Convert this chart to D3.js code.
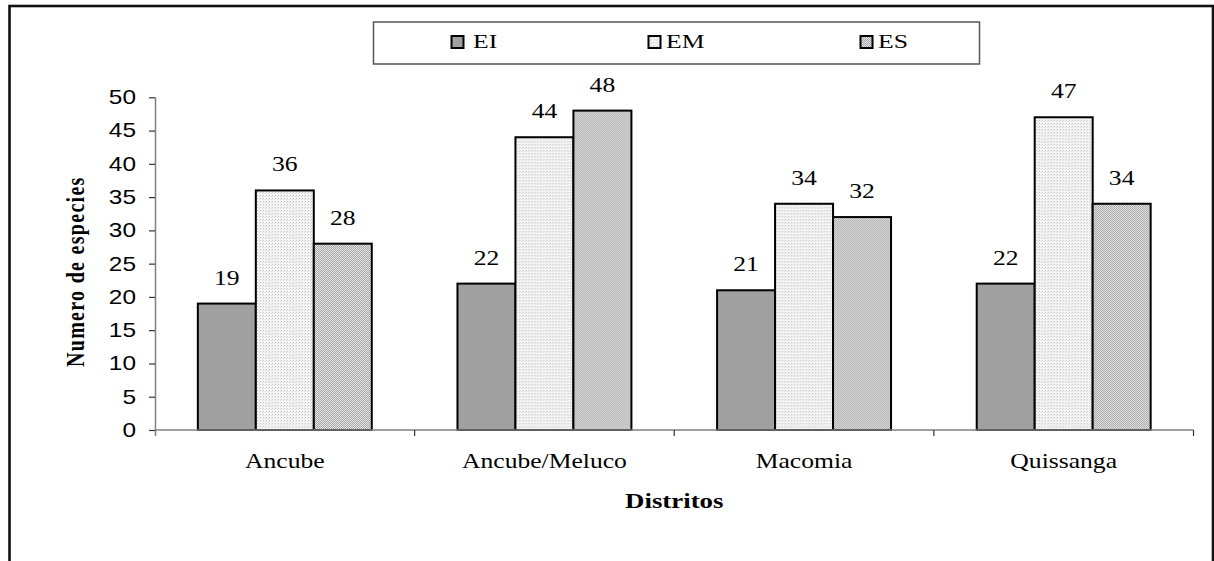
<!DOCTYPE html>
<html>
<head>
<meta charset="utf-8">
<script src="https://cdn.jsdelivr.net/npm/d3@7"></script>
<style>
  html, body { margin: 0; padding: 0; background: #fff; }
  svg { display: block; }
</style>
</head>
<body>
<svg id="chart" width="1214" height="561"></svg>
<script>
// Species counts per district, split by group
const districts = ["Ancube", "Ancube/Meluco", "Macomia", "Quissanga"];
const seriesNames = ["EI", "EM", "ES"];
const valuesEI = [19, 22, 21, 22];
const valuesEM = [36, 44, 34, 47];
const valuesES = [28, 48, 32, 34];
const yTickValues = [0, 5, 10, 15, 20, 25, 30, 35, 40, 45, 50];
const yTitle = "Numero de especies";
const xTitle = "Distritos";

const seriesValues = { EI: valuesEI, EM: valuesEM, ES: valuesES };
const rows = districts.map((d, i) => ({
  district: d,
  bars: seriesNames.map(s => ({ key: s, value: seriesValues[s][i] }))
}));

const SERIF = "'Liberation Serif', 'Times New Roman', serif";
const SANS = "'Liberation Sans', Arial, sans-serif";
const WIDE = 1.22; // horizontal widening applied to all lettering

const svg = d3.select("#chart");

// Fill patterns: solid grey, fine light stipple, medium checker
const defs = svg.append("defs");
const pEM = defs.append("pattern").attr("id", "fillEM")
  .attr("patternUnits", "userSpaceOnUse").attr("width", 3).attr("height", 3);
pEM.append("rect").attr("width", 3).attr("height", 3).attr("fill", "#f4f4f4");
pEM.append("rect").attr("x", 0).attr("y", 0).attr("width", 1).attr("height", 1).attr("fill", "#c4c4c4");
pEM.append("rect").attr("x", 2).attr("y", 1).attr("width", 1).attr("height", 1).attr("fill", "#d8d8d8");

const pES = defs.append("pattern").attr("id", "fillES")
  .attr("patternUnits", "userSpaceOnUse").attr("width", 2).attr("height", 2);
pES.append("rect").attr("width", 2).attr("height", 2).attr("fill", "#e4e4e4");
pES.append("rect").attr("x", 0).attr("y", 0).attr("width", 1).attr("height", 1).attr("fill", "#a8a8a8");
pES.append("rect").attr("x", 1).attr("y", 1).attr("width", 1).attr("height", 1).attr("fill", "#a8a8a8");

const fills = { EI: "#a0a0a0", EM: "url(#fillEM)", ES: "url(#fillES)" };

// Place a widened text at (x, y)
function label(parent, x, y, str, opts) {
  const t = parent.append("text")
    .attr("transform", `translate(${x},${y}) scale(${opts.wide || WIDE},1)`)
    .attr("text-anchor", opts.anchor || "middle")
    .attr("font-family", opts.family || SERIF)
    .attr("font-size", opts.size || 21)
    .attr("fill", "#000")
    .text(str);
  if (opts.bold) t.attr("font-weight", "bold");
  if (opts.spacing) t.attr("letter-spacing", opts.spacing);
  return t;
}

// Outer frame
svg.append("rect")
  .attr("x", 9.5).attr("y", 6).attr("width", 1203.5).attr("height", 600)
  .attr("fill", "none").attr("stroke", "#111").attr("stroke-width", 2.6);

const plot = { left: 155, right: 1193.5, top: 97.3, bottom: 430 };

const x0 = d3.scaleBand().domain(districts).range([plot.left, plot.right]).padding(0);
const bw = x0.bandwidth();
const x1 = d3.scaleBand().domain(seriesNames).range([bw * 0.165, bw * 0.835]).padding(0);
const y = d3.scaleLinear().domain([0, 50]).range([plot.bottom, plot.top]);

// Bars
const groups = svg.append("g").selectAll("g").data(rows).join("g")
  .attr("transform", d => `translate(${x0(d.district)},0)`);

groups.selectAll("rect").data(d => d.bars).join("rect")
  .attr("x", d => x1(d.key))
  .attr("y", d => y(d.value))
  .attr("width", x1.bandwidth())
  .attr("height", d => y(0) - y(d.value))
  .attr("fill", d => fills[d.key])
  .attr("stroke", "#000")
  .attr("stroke-width", 2);

// Value labels
groups.each(function (g) {
  const sel = d3.select(this);
  g.bars.forEach(b => {
    label(sel, x1(b.key) + x1.bandwidth() / 2, y(b.value) - 19, b.value, { size: 21 });
  });
});

// Y axis
const yAxis = svg.append("g")
  .attr("transform", `translate(${plot.left},0)`)
  .call(d3.axisLeft(y).tickValues(yTickValues).tickSize(6).tickPadding(13).tickSizeOuter(0));
yAxis.select(".domain").attr("stroke", "#808080").attr("stroke-width", 1.5)
  .attr("d", `M0.5,${plot.top}V${plot.bottom + 6}`);
yAxis.selectAll(".tick line").attr("stroke", "#333").attr("stroke-width", 1.2);
yAxis.selectAll(".tick text")
  .attr("font-family", SANS)
  .attr("font-size", 20).attr("fill", "#000")
  .attr("x", -19 / WIDE)
  .attr("transform", `scale(${WIDE},1)`);

// X axis: baseline with ticks at category boundaries, labels centred in each band
const xAxis = svg.append("g");
xAxis.append("line")
  .attr("x1", plot.left).attr("x2", plot.right)
  .attr("y1", plot.bottom).attr("y2", plot.bottom)
  .attr("stroke", "#808080").attr("stroke-width", 1.5);
const boundaries = districts.map(d => x0(d)).concat([x0(districts[districts.length - 1]) + bw]);
xAxis.selectAll("line.tick").data(boundaries.slice(1)).join("line")
  .attr("class", "tick")
  .attr("x1", d => d).attr("x2", d => d)
  .attr("y1", plot.bottom).attr("y2", plot.bottom + 6)
  .attr("stroke", "#333").attr("stroke-width", 1.2);
districts.forEach(d => label(xAxis, x0(d) + bw / 2, 468, d, { size: 21 }));

// Axis titles
label(svg, (plot.left + plot.right) / 2, 508, xTitle, { size: 22, bold: true });

svg.append("text")
  .attr("transform", `translate(84,${(plot.top + plot.bottom) / 2 + 8}) scale(${WIDE},1) rotate(-90)`)
  .attr("text-anchor", "middle")
  .attr("font-family", SERIF)
  .attr("font-weight", "bold")
  .attr("font-size", 20)
  .attr("letter-spacing", 1.3)
  .attr("fill", "#000")
  .text(yTitle);

// Legend
const legend = svg.append("g");
legend.append("rect")
  .attr("x", 373.5).attr("y", 22).attr("width", 606).attr("height", 42)
  .attr("fill", "#fff").attr("stroke", "#555").attr("stroke-width", 1.5);
const swatchX = { EI: 451, EM: 648, ES: 860 };
const textX = { EI: 473, EM: 666, ES: 878 };
seriesNames.forEach(s => {
  legend.append("rect")
    .attr("x", swatchX[s] + 0.5).attr("y", 36).attr("width", 12).attr("height", 12)
    .attr("fill", fills[s]).attr("stroke", "#000").attr("stroke-width", 2);
  label(legend, textX[s], 48, s, { size: 19, anchor: "start", wide: 1.35 });
});
</script>
</body>
</html>
